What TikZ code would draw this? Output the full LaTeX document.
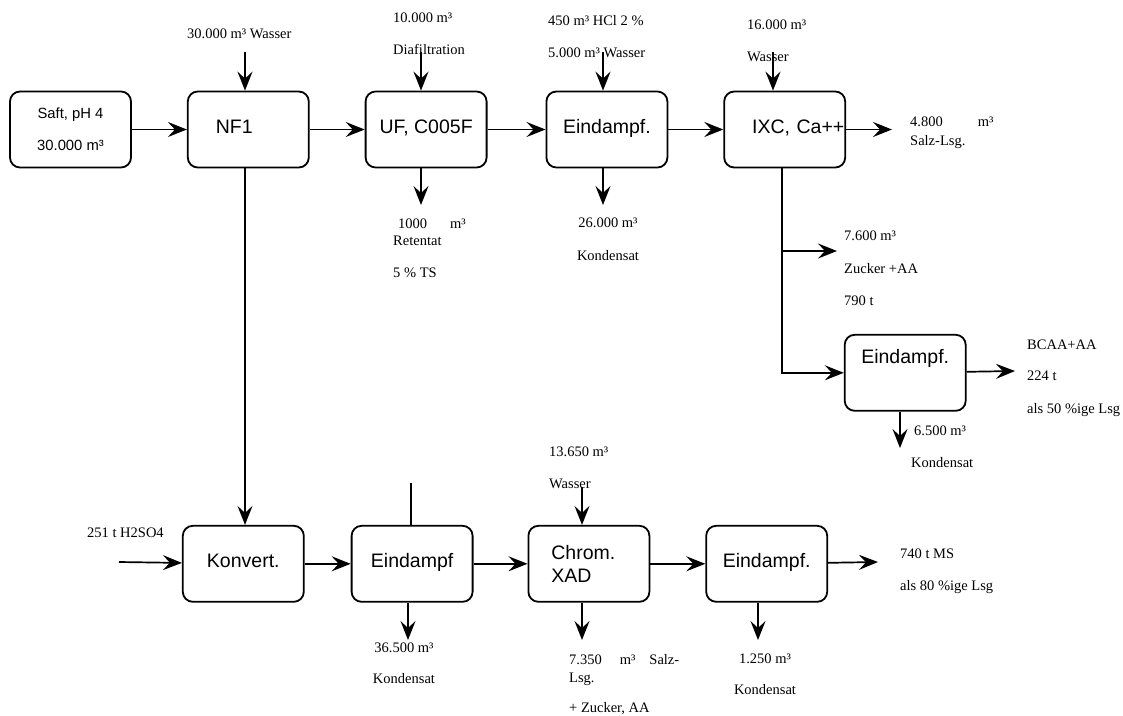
\documentclass[tikz,border=0pt]{standalone}
\usepackage{fontspec}
\setmainfont{Liberation Serif}
\setsansfont{Liberation Sans}
\usetikzlibrary{arrows.meta, positioning}

\begin{document}
\begin{tikzpicture}[x=1pt, y=-1pt]
\tikzstyle{unit} = [rectangle, draw, line width=1.8pt, rounded corners=10pt, minimum width=121pt, minimum height=76pt, text height=14pt, text depth=6pt, font=\sffamily\fontsize{19.5}{23}\selectfont]
\tikzstyle{qty} = [anchor=north west, align=left, inner sep=0pt, font=\fontsize{14.5}{17}\selectfont]
\tikzstyle{arrow} = [line width=1.7pt, -{Stealth[length=19pt, width=15pt, inset=7pt]}]
\tikzstyle{line} = [line width=1.7pt]

\useasboundingbox (0,0) rectangle (1123,715);

% obere Linie
\node (saft) [unit, text height=, text depth=, align=center, font=\sffamily\fontsize{14.8}{17}\selectfont] at (70.5,129.5) {Saft, pH 4\\[15pt]30.000 m³};
\node (nf1) [unit, right=55pt of saft, text width=65pt, align=left] {NF1};
\node (uf) [unit, right=55pt of nf1] {UF, C005F};
\node (eind1) [unit, right=58pt of uf] {Eindampf.};
\node (ixc) [unit, right=55pt of eind1, text width=65pt, align=left] {IXC,~Ca++};
\node (eind4) [unit, below=165.5pt of ixc, xshift=120.5pt, text depth=32pt] {Eindampf.};

% untere Linie
\node (konv) [unit, below=356.5pt of nf1, xshift=-5pt] {Konvert.};
\node (eind2) [unit, right=46pt of konv] {Eindampf};
\node (chrom) [unit, right=54pt of eind2, text height=, text depth=, text width=75pt, align=left] {Chrom.\\XAD};
\node (eind3) [unit, right=55pt of chrom] {Eindampf.};

% Zu- und Ablaeufe
\coordinate (w1) at (245,52);
\coordinate (dia) at (421,52);
\coordinate (hcl) at (603,52);
\coordinate (w3) at (773,52);
\coordinate (ret) at (421,205);
\coordinate (kd1) at (603,205);
\coordinate (salz) at (892,129.5);
\coordinate (zab) at (782,251);
\coordinate (zuck) at (837,251);
\coordinate (bcaa) at (1015,371);
\coordinate (kd4) at (900,448);
\coordinate (h2so4) at (119,562);
\coordinate (top2) at (411,483);
\coordinate (kd2) at (408,640);
\coordinate (w4) at (582,487);
\coordinate (sl) at (582,640);
\coordinate (kd3) at (758,640);
\coordinate (ms) at (878,562);

\draw [arrow] (saft) -- (nf1);
\draw [arrow] (nf1) -- (uf);
\draw [arrow] (uf) -- (eind1);
\draw [arrow] (eind1) -- (ixc);
\draw [arrow] (ixc) -- (salz);
\draw [arrow] (w1) -- (w1 |- nf1.north);
\draw [arrow] (dia) -- (dia |- uf.north);
\draw [arrow] (hcl) -- (hcl |- eind1.north);
\draw [arrow] (w3) -- (w3 |- ixc.north);
\draw [arrow] (ret |- uf.south) -- (ret);
\draw [arrow] (kd1 |- eind1.south) -- (kd1);
\draw [arrow] (zab |- ixc.south) |- (eind4.west);
\draw [arrow] (zab) -- (zuck);
\draw [arrow] (eind4) -- (bcaa);
\draw [arrow] (kd4 |- eind4.south) -- (kd4);
\draw [arrow] (w1 |- nf1.south) -- (w1 |- konv.north);

\draw [arrow] (h2so4) -- (konv);
\draw [arrow] (konv) -- (eind2);
\draw [arrow] (eind2) -- (chrom);
\draw [arrow] (chrom) -- (eind3);
\draw [arrow] (eind3) -- (ms);
\draw [line] (top2) -- (top2 |- eind2.north);
\draw [arrow] (kd2 |- eind2.south) -- (kd2);
\draw [arrow] (w4) -- (w4 |- chrom.north);
\draw [arrow] (sl |- chrom.south) -- (sl);
\draw [arrow] (kd3 |- eind3.south) -- (kd3);

% Mengen
\node (l1) [qty] at (187,29) {30.000 m³ Wasser};
\node (l2) [qty] at (393,13) {10.000 m³\\[15pt]Diafiltration};
\node (l3) [qty] at (548,15) {450 m³ HCl 2 \%\\[15pt]5.000 m³ Wasser};
\node (l4) [qty] at (747,20) {16.000 m³\\[15pt]Wasser};
\node (l5) [qty] at (910,117) {4.800\hspace{35pt}m³\\[2pt]Salz-Lsg.};
\node (l6) [qty] at (393,219) {\hspace*{5pt}1000\hspace{23pt}m³\\Retentat\\[15pt]5 \% TS};
\node (l7) [qty, anchor=north, align=center] at (608,218) {26.000 m³\\[16pt]Kondensat};
\node (l8) [qty] at (844,231) {7.600 m³\\[16pt]Zucker +AA\\[15pt]790 t};
\node (l9) [qty] at (1027,340) {BCAA+AA\\[14pt]224 t\\[16pt]als 50 \%ige Lsg};
\node (l10) [qty] at (911,426) {\hspace*{3pt}6.500 m³\\[15pt]Kondensat};
\node (l11) [qty] at (87,528) {251 t H2SO4};
\node (l12) [qty, anchor=north, align=center] at (404,643) {36.500 m³\\[14pt]Kondensat};
\node (l13) [qty] at (549,447) {13.650 m³\\[15pt]Wasser};
\node (l14) [qty] at (569,654) {7.350\hspace{18pt}m³\hspace{14pt}Salz-\\[1pt]Lsg.\\[13pt]+ Zucker, AA};
\node (l15) [qty, anchor=north, align=center] at (765,654) {1.250 m³\\[14pt]Kondensat};
\node (l16) [qty] at (900,549) {740 t MS\\[15pt]als 80 \%ige Lsg};

\end{tikzpicture}
\end{document}
